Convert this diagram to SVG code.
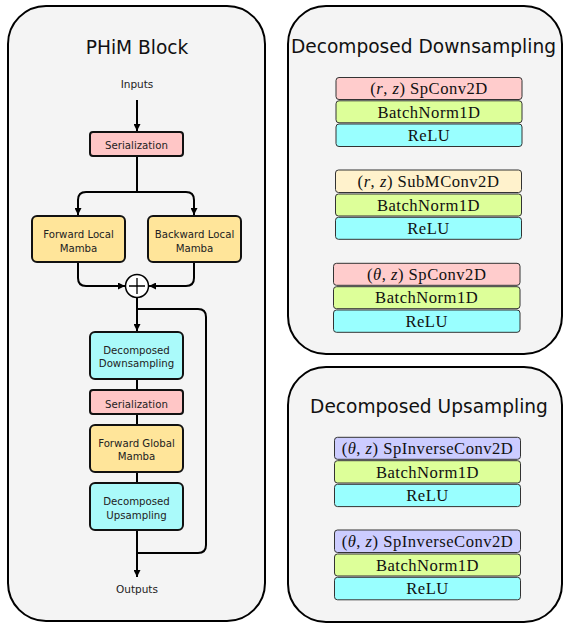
<svg xmlns="http://www.w3.org/2000/svg" width="563" height="625" viewBox="0 0 563 625">
<defs>
<marker id="arr" viewBox="0 0 10 10" refX="10" refY="5" markerWidth="7" markerHeight="7" markerUnits="userSpaceOnUse" orient="auto">
<path d="M0,0 L10,5 L0,10 z" fill="#000"/>
</marker>
<style>
.panel{fill:#f4f4f4;stroke:#000;stroke-width:2}
.title{font-family:"DejaVu Sans",Verdana,sans-serif;font-size:18.6px;fill:#111;text-anchor:middle}
.lbl{font-family:"DejaVu Sans",Verdana,sans-serif;font-size:10.2px;fill:#222;text-anchor:middle}
.io{font-family:"DejaVu Sans",Verdana,sans-serif;font-size:10.5px;fill:#222;text-anchor:middle}
.box{stroke:#111;stroke-width:2}
.pink{fill:#ffc6c6}
.mamba{fill:#ffe59a}
.cyan{fill:#aafafa}
.row{stroke:#333;stroke-width:1}
.r-pink{fill:#ffcccc}
.r-lime{fill:#ddff99}
.r-cyan{fill:#99ffff}
.r-cream{fill:#fff2cc}
.r-lav{fill:#ccccff}
.tex{font-family:"Liberation Serif","Times New Roman",serif;font-size:16.6px;fill:#111;text-anchor:middle;letter-spacing:0.5px}
.it{font-style:italic}
.conn{fill:none;stroke:#000;stroke-width:2}
</style>
</defs>

<g id="panel-phim">
<rect class="panel" x="8" y="6" width="257" height="615" rx="38"/>
<text class="title" x="137" y="54">PHiM Block</text>
</g>
<g id="panel-down">
<rect class="panel" x="288" y="6" width="274" height="348" rx="38"/>
<text class="title" x="423.5" y="53">Decomposed Downsampling</text>
</g>
<g id="panel-up">
<rect class="panel" x="288" y="367" width="274" height="255" rx="38"/>
<text class="title" x="429" y="413">Decomposed Upsampling</text>
</g>

<g id="connectors">
<path class="conn" d="M137,100 V131" marker-end="url(#arr)"/>
<path class="conn" d="M137,156 V192"/>
<path class="conn" d="M137,192 H86 Q78,192 78,200 V215" marker-end="url(#arr)"/>
<path class="conn" d="M137,192 H186 Q194,192 194,200 V215" marker-end="url(#arr)"/>
<path class="conn" d="M78,262 V278 Q78,286 86,286 H125" marker-end="url(#arr)"/>
<path class="conn" d="M194,262 V278 Q194,286 186,286 H149" marker-end="url(#arr)"/>
<path class="conn" d="M137,297.5 V331" marker-end="url(#arr)"/>
<path class="conn" d="M137,309 H198 Q206,309 206,317 V545 Q206,553 198,553 H137"/>
<path class="conn" d="M137,379 V390"/>
<path class="conn" d="M137,414 V425"/>
<path class="conn" d="M137,472 V483"/>
<path class="conn" d="M137,530 V577" marker-end="url(#arr)"/>
</g>

<g id="inputs"><text class="io" x="137" y="88">Inputs</text></g>
<g id="outputs"><text class="io" x="137" y="593">Outputs</text></g>

<g id="serialization1">
<rect class="box pink" x="90" y="132" width="93" height="24" rx="3"/>
<text class="lbl" x="136.5" y="149">Serialization</text>
</g>
<g id="forward-local">
<rect class="box mamba" x="32" y="216" width="93" height="46" rx="5"/>
<text class="lbl" x="78.5" y="237.5">Forward Local</text>
<text class="lbl" x="78.5" y="251.5">Mamba</text>
</g>
<g id="backward-local">
<rect class="box mamba" x="148" y="216" width="93" height="46" rx="5"/>
<text class="lbl" x="194.5" y="237.5">Backward Local</text>
<text class="lbl" x="194.5" y="251.5">Mamba</text>
</g>
<g id="sum">
<circle cx="137" cy="286" r="11.5" fill="#fff" stroke="#000" stroke-width="1.5"/>
<path d="M129,286 H145 M137,278 V294" stroke="#000" stroke-width="1.3"/>
</g>
<g id="dec-down">
<rect class="box cyan" x="90" y="332" width="93" height="47" rx="5"/>
<text class="lbl" x="136.5" y="353.5">Decomposed</text>
<text class="lbl" x="136.5" y="367">Downsampling</text>
</g>
<g id="serialization2">
<rect class="box pink" x="90" y="390" width="93" height="24" rx="3"/>
<text class="lbl" x="136.5" y="407.5">Serialization</text>
</g>
<g id="forward-global">
<rect class="box mamba" x="90" y="425" width="93" height="47" rx="5"/>
<text class="lbl" x="136.5" y="447">Forward Global</text>
<text class="lbl" x="136.5" y="460">Mamba</text>
</g>
<g id="dec-up">
<rect class="box cyan" x="90" y="483" width="93" height="47" rx="5"/>
<text class="lbl" x="136.5" y="504.5">Decomposed</text>
<text class="lbl" x="136.5" y="518.5">Upsampling</text>
</g>

<g id="down-stack1">
<rect class="row r-pink" x="336" y="77.5" width="186" height="22" rx="3"/>
<rect class="row r-lime" x="336" y="100.8" width="186" height="22" rx="3"/>
<rect class="row r-cyan" x="336" y="124" width="186" height="22.5" rx="3"/>
<text class="tex" x="429" y="94">(<tspan class="it">r</tspan>, <tspan class="it">z</tspan>) SpConv2D</text>
<text class="tex" x="429" y="117.5">BatchNorm1D</text>
<text class="tex" x="429" y="141">ReLU</text>
</g>
<g id="down-stack2">
<rect class="row r-cream" x="335.5" y="170" width="186" height="22.5" rx="3"/>
<rect class="row r-lime" x="335.5" y="194" width="186" height="22" rx="3"/>
<rect class="row r-cyan" x="335.5" y="217.3" width="186" height="22" rx="3"/>
<text class="tex" x="428.5" y="187">(<tspan class="it">r</tspan>, <tspan class="it">z</tspan>) SubMConv2D</text>
<text class="tex" x="428.5" y="210.5">BatchNorm1D</text>
<text class="tex" x="428.5" y="233.5">ReLU</text>
</g>
<g id="down-stack3">
<rect class="row r-pink" x="333.5" y="263.3" width="186.5" height="22" rx="3"/>
<rect class="row r-lime" x="333.5" y="286.7" width="186.5" height="22" rx="3"/>
<rect class="row r-cyan" x="333.5" y="310" width="186.5" height="22.3" rx="3"/>
<text class="tex" x="426.7" y="280">(<tspan class="it">θ</tspan>, <tspan class="it">z</tspan>) SpConv2D</text>
<text class="tex" x="426.7" y="303">BatchNorm1D</text>
<text class="tex" x="426.7" y="326.5">ReLU</text>
</g>
<g id="up-stack1">
<rect class="row r-lav" x="334.5" y="437.3" width="186" height="22" rx="3"/>
<rect class="row r-lime" x="334.5" y="460.7" width="186" height="22.3" rx="3"/>
<rect class="row r-cyan" x="334.5" y="484.3" width="186" height="22.3" rx="3"/>
<text class="tex" x="427.5" y="454">(<tspan class="it">θ</tspan>, <tspan class="it">z</tspan>) SpInverseConv2D</text>
<text class="tex" x="427.5" y="477.5">BatchNorm1D</text>
<text class="tex" x="427.5" y="501">ReLU</text>
</g>
<g id="up-stack2">
<rect class="row r-lav" x="334.5" y="530" width="186" height="22.5" rx="3"/>
<rect class="row r-lime" x="334.5" y="554" width="186" height="22" rx="3"/>
<rect class="row r-cyan" x="334.5" y="577.3" width="186" height="22.5" rx="3"/>
<text class="tex" x="427.5" y="547">(<tspan class="it">θ</tspan>, <tspan class="it">z</tspan>) SpInverseConv2D</text>
<text class="tex" x="427.5" y="570.5">BatchNorm1D</text>
<text class="tex" x="427.5" y="594">ReLU</text>
</g>
</svg>
